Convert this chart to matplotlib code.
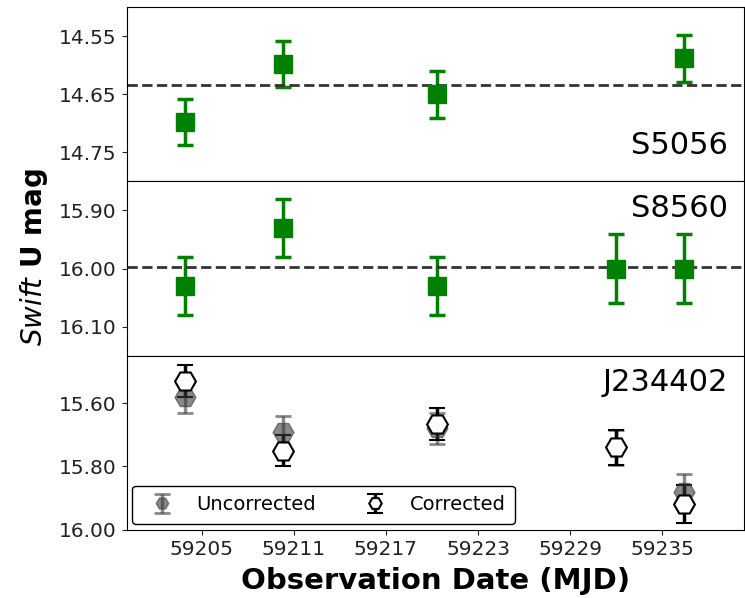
import numpy as np
import matplotlib
matplotlib.use('Agg')
import matplotlib.pyplot as plt

# observation dates (MJD)
mjd_s5056 = [59203.9, 59210.3, 59220.3, 59236.4]
mag_s5056 = [14.698, 14.598, 14.650, 14.588]
err_s5056 = [0.04, 0.04, 0.04, 0.04]

mjd_s8560 = [59203.9, 59210.3, 59220.3, 59232.0, 59236.4]
mag_s8560 = [16.03, 15.93, 16.03, 16.00, 16.00]
err_s8560 = [0.05, 0.05, 0.05, 0.06, 0.06]

mjd_j234402 = [59203.9, 59210.3, 59220.3, 59232.0, 59236.4]
mag_uncorr = [15.58, 15.69, 15.68, 15.74, 15.88]
err_uncorr = [0.05, 0.05, 0.05, 0.055, 0.055]
mag_corr = [15.53, 15.75, 15.665, 15.74, 15.92]
err_corr = [0.05, 0.05, 0.05, 0.055, 0.06]

xticks = [59205, 59211, 59217, 59223, 59229, 59235]

fig, axes = plt.subplots(3, 1, sharex=True, figsize=(7.45, 5.98), dpi=100)
fig.subplots_adjust(left=0.170, right=0.998, top=0.988, bottom=0.114, hspace=0)

# comparison stars
for ax, x, y, e, name, ylim, ticks, pos in [
        (axes[0], mjd_s5056, mag_s5056, err_s5056, 'S5056', (14.80, 14.50),
         [14.55, 14.65, 14.75], 'bottom'),
        (axes[1], mjd_s8560, mag_s8560, err_s8560, 'S8560', (16.15, 15.85),
         [15.90, 16.00, 16.10], 'top')]:
    ax.errorbar(x, y, yerr=e, fmt='s', color='green', ms=13, elinewidth=2.5,
                capsize=6, capthick=2.5)
    ax.axhline(np.mean(y), color='#333333', ls='--', lw=2)
    ax.set_ylim(*ylim)
    ax.set_yticks(ticks)
    ax.set_yticklabels([f'{t:.2f}' for t in ticks])
    if pos == 'bottom':
        ax.text(0.975, 0.12, name, transform=ax.transAxes, ha='right', va='bottom', fontsize=22)
    else:
        ax.text(0.975, 0.93, name, transform=ax.transAxes, ha='right', va='top', fontsize=22)

# target
ax = axes[2]
ax.errorbar(mjd_j234402, mag_uncorr, yerr=err_uncorr, fmt='H', color='#3a3a3a', alpha=0.6,
            ms=15, elinewidth=2.5, capsize=6, capthick=2, label='Uncorrected')
ax.errorbar(mjd_j234402, mag_corr, yerr=err_corr, fmt='H', color='black', mfc='white',
            mec='black', mew=1.5, ms=15, elinewidth=2.5, capsize=6, capthick=2.5,
            label='Corrected')
ax.set_ylim(16.0, 15.45)
ax.set_yticks([15.60, 15.80, 16.00])
ax.set_yticklabels(['15.60', '15.80', '16.00'])
ax.text(0.975, 0.93, 'J234402', transform=ax.transAxes, ha='right', va='top', fontsize=22)
leg = ax.legend(loc='lower left', ncol=2, fontsize=14, markerscale=0.6,
                framealpha=1, edgecolor='black', borderpad=0.5, borderaxespad=0.3)

ax.set_xlim(59200.1, 59240.3)
ax.set_xticks(xticks)
ax.set_xticklabels([str(t) for t in xticks])
ax.set_xlabel('Observation Date (MJD)', fontsize=21, fontweight='bold', labelpad=6)

for a in axes:
    a.tick_params(labelsize=14.5, colors='#222222')

fig.text(0.045, 0.57, r'$\it{Swift}$ U mag', rotation=90, va='center', ha='center',
         fontsize=20, fontweight='bold')

fig.savefig('out.png', dpi=100)
